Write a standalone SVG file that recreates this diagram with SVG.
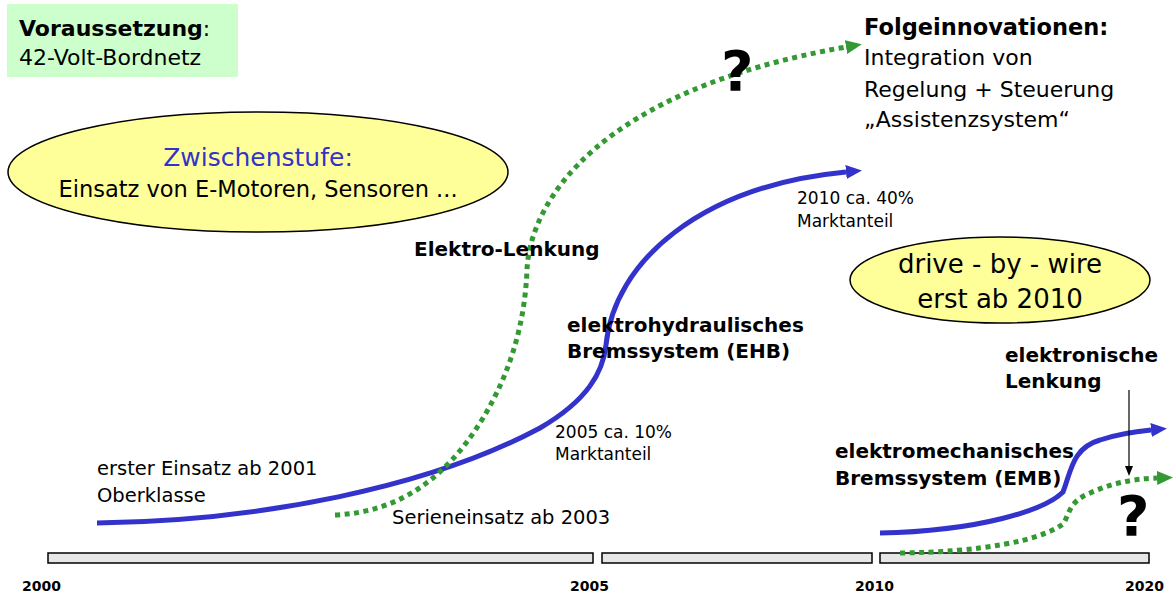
<svg xmlns="http://www.w3.org/2000/svg" width="1176" height="595" viewBox="0 0 1176 595">
<style>
text{font-family:"DejaVu Sans",Verdana,sans-serif;fill:#000}
.b{font-weight:bold}
.bar{fill:#e6e6e6;stroke:#000;stroke-width:1.5}
.ell{fill:#ffff99;stroke:#000;stroke-width:1.5}
.blue{fill:none;stroke:#3333cc;stroke-width:5}
.green{fill:none;stroke:#339933;stroke-width:5;stroke-dasharray:5 4.5}
.q{font-weight:bold;font-size:56px}
</style>
<defs>
<marker id="ab" viewBox="0 0 16 14" refX="0" refY="7" markerWidth="16" markerHeight="14" markerUnits="userSpaceOnUse" orient="auto"><path d="M0,0 L16,7 L0,14 z" fill="#3333cc"/></marker>
<marker id="ag" viewBox="0 0 16 14" refX="0" refY="7" markerWidth="16" markerHeight="14" markerUnits="userSpaceOnUse" orient="auto"><path d="M0,0 L16,7 L0,14 z" fill="#339933"/></marker>
<marker id="ak" viewBox="0 0 10 8" refX="0" refY="4" markerWidth="10" markerHeight="8" markerUnits="userSpaceOnUse" orient="auto"><path d="M0,0 L10,4 L0,8 z" fill="#000"/></marker>
</defs>
<rect width="1176" height="595" fill="#fff"/>

<g id="voraussetzung">
<rect x="7" y="4" width="231" height="73" fill="#ccffcc"/>
<text x="19" y="36" font-size="22"><tspan class="b">Voraussetzung</tspan>:</text>
<text x="19" y="65" font-size="22">42-Volt-Bordnetz</text>
</g>

<g id="zwischenstufe">
<ellipse class="ell" cx="258" cy="172" rx="250" ry="60"/>
<text x="258" y="166" font-size="25" text-anchor="middle" style="fill:#3333cc">Zwischenstufe:</text>
<text x="258" y="197" font-size="22.5" text-anchor="middle">Einsatz von E-Motoren, Sensoren ...</text>
</g>

<g id="drivebywire">
<ellipse class="ell" cx="1000" cy="280" rx="150" ry="43"/>
<text x="1000" y="273" font-size="26" text-anchor="middle">drive - by - wire</text>
<text x="1000" y="308" font-size="26" text-anchor="middle">erst ab 2010</text>
</g>

<g id="timeline">
<rect class="bar" x="48" y="553" width="545" height="10"/>
<rect class="bar" x="602" y="553" width="270" height="10"/>
<rect class="bar" x="880" y="553" width="269" height="10"/>
<text class="b" x="22" y="591" font-size="14">2000</text>
<text class="b" x="570" y="591" font-size="14">2005</text>
<text class="b" x="855" y="591" font-size="14">2010</text>
<text class="b" x="1125" y="591" font-size="14">2020</text>
</g>

<g id="connectors">
<path class="blue" d="M97,523 C260,521 430,487 540,428 C588,400 603,372 606,345 C614,262 700,186 846,172" marker-end="url(#ab)"/>
<path class="green" d="M335,515 C400,512 445,478 480,423 C512,372 525,320 527,270 C530,200 600,90 846,47" marker-end="url(#ag)"/>
<path class="blue" d="M880,533 C980,531 1045,510 1063,492 C1071,472 1072,448 1100,440 C1115,435 1130,432 1151,430" marker-end="url(#ab)"/>
<path class="green" d="M900,553 C980,552 1040,541 1063,524 C1070,514 1068,502 1090,493 C1110,484 1130,479 1157,478" marker-end="url(#ag)"/>
<line x1="1129" y1="390" x2="1129" y2="466" stroke="#000" stroke-width="1.2" marker-end="url(#ak)"/>
</g>

<g id="folgeinnovationen">
<text class="b" x="864" y="35" font-size="22.5">Folgeinnovationen:</text>
<text x="864" y="65" font-size="22">Integration von</text>
<text x="864" y="97" font-size="22">Regelung + Steuerung</text>
<text x="864" y="127" font-size="22">„Assistenzsystem“</text>
</g>

<g id="q1"><text class="q" x="721" y="90">?</text></g>
<g id="q2"><text class="q" x="1117" y="535">?</text></g>

<g id="ehb-labels">
<text x="797" y="204" font-size="17">2010 ca. 40%</text>
<text x="797" y="227" font-size="17">Marktanteil</text>
<text class="b" x="567" y="332" font-size="20">elektrohydraulisches</text>
<text class="b" x="567" y="358" font-size="20">Bremssystem (EHB)</text>
<text x="555" y="438" font-size="17">2005 ca. 10%</text>
<text x="555" y="460" font-size="17">Marktanteil</text>
<text x="97" y="475" font-size="19.5">erster Einsatz ab 2001</text>
<text x="97" y="502" font-size="19.5">Oberklasse</text>
</g>

<g id="lenkung-labels">
<text class="b" x="414" y="256" font-size="20">Elektro-Lenkung</text>
<text x="392" y="524" font-size="19.5">Serieneinsatz ab 2003</text>
</g>

<g id="emb-labels">
<text class="b" x="1005" y="362" font-size="20">elektronische</text>
<text class="b" x="1005" y="388" font-size="20">Lenkung</text>
<text class="b" x="835" y="458" font-size="20">elektromechanisches</text>
<text class="b" x="835" y="485" font-size="20">Bremssystem (EMB)</text>
</g>
</svg>
